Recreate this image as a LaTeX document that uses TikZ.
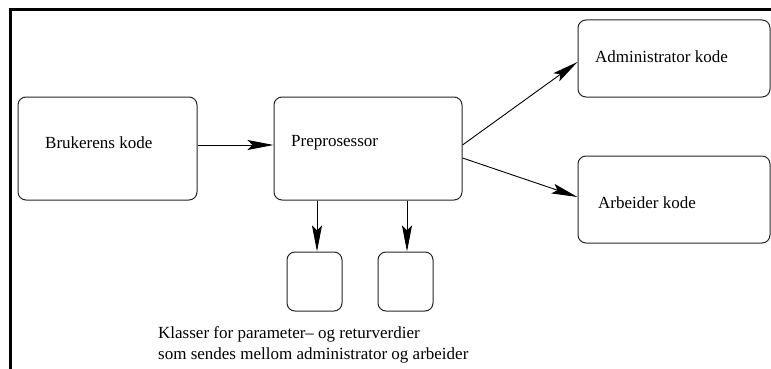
\documentclass[tikz,border=0pt]{standalone}
\usepackage{fontspec}
\setmainfont{Liberation Serif}
\usetikzlibrary{arrows.meta}
\begin{document}
\begin{tikzpicture}[x=1pt,y=-1pt,
  box/.style={draw=black!85,line width=1pt,rounded corners=8pt,inner sep=0pt},
  lbl/.style={anchor=base west,inner sep=0pt,font=\fontsize{17}{21}\selectfont},
  flow/.style={line width=0.9pt,-{Stealth[length=26pt,width=10pt,inset=5pt]}},
  frame/.style={line width=3pt,line cap=rect}]
\useasboundingbox (0,0) rectangle (771,369);
\clip (0,0) rectangle (771,369);

% outer frame (top and left sides)
\draw[frame] (10.5,369) -- (10.5,9.5) -- (775,9.5);

% boxes
\node[box,minimum width=179pt,minimum height=103pt] (bruk) at (107.5,148.5) {};
\node[box,minimum width=188pt,minimum height=103pt] (pre)  at (368,148.5) {};
\node[box,minimum width=192pt,minimum height=77pt]  (adm)  at (674,58.5) {};
\node[box,minimum width=192pt,minimum height=87pt]  (arb)  at (674,199.5) {};
\node[box,minimum width=55pt,minimum height=59pt]   (sa)   at (314.5,281.5) {};
\node[box,minimum width=55pt,minimum height=59pt]   (sb)   at (405.5,281.5) {};

% labels
\node[lbl] (tbruk) at (45,148) {Brukerens kode};
\node[lbl] (tpre)  at (291,146) {Preprosessor};
\node[lbl] (tadm)  at (595,63) {Administrator kode};
\node[lbl] (tarb)  at (598,208) {Arbeider kode};
\node[lbl,align=left,anchor=north west] (cap) at (158,326)
  {Klasser for parameter– og returverdier\\som sendes mellom administrator og arbeider};

% connectors (shifts are in page units: positive = up)
\draw[flow] ([yshift=3.5pt]bruk.east) -- ([yshift=3.5pt]pre.west);
\draw[flow] ([yshift=3.5pt]pre.east) -- ([yshift=-3.5pt]adm.west);
\draw[flow] ([yshift=-9.5pt]pre.east) -- ([yshift=2.5pt]arb.west);
\draw[flow] ([xshift=2.5pt]sa.north |- pre.south) -- ([xshift=2.5pt]sa.north);
\draw[flow] ([xshift=1.5pt]sb.north |- pre.south) -- ([xshift=1.5pt]sb.north);
\end{tikzpicture}
\end{document}
